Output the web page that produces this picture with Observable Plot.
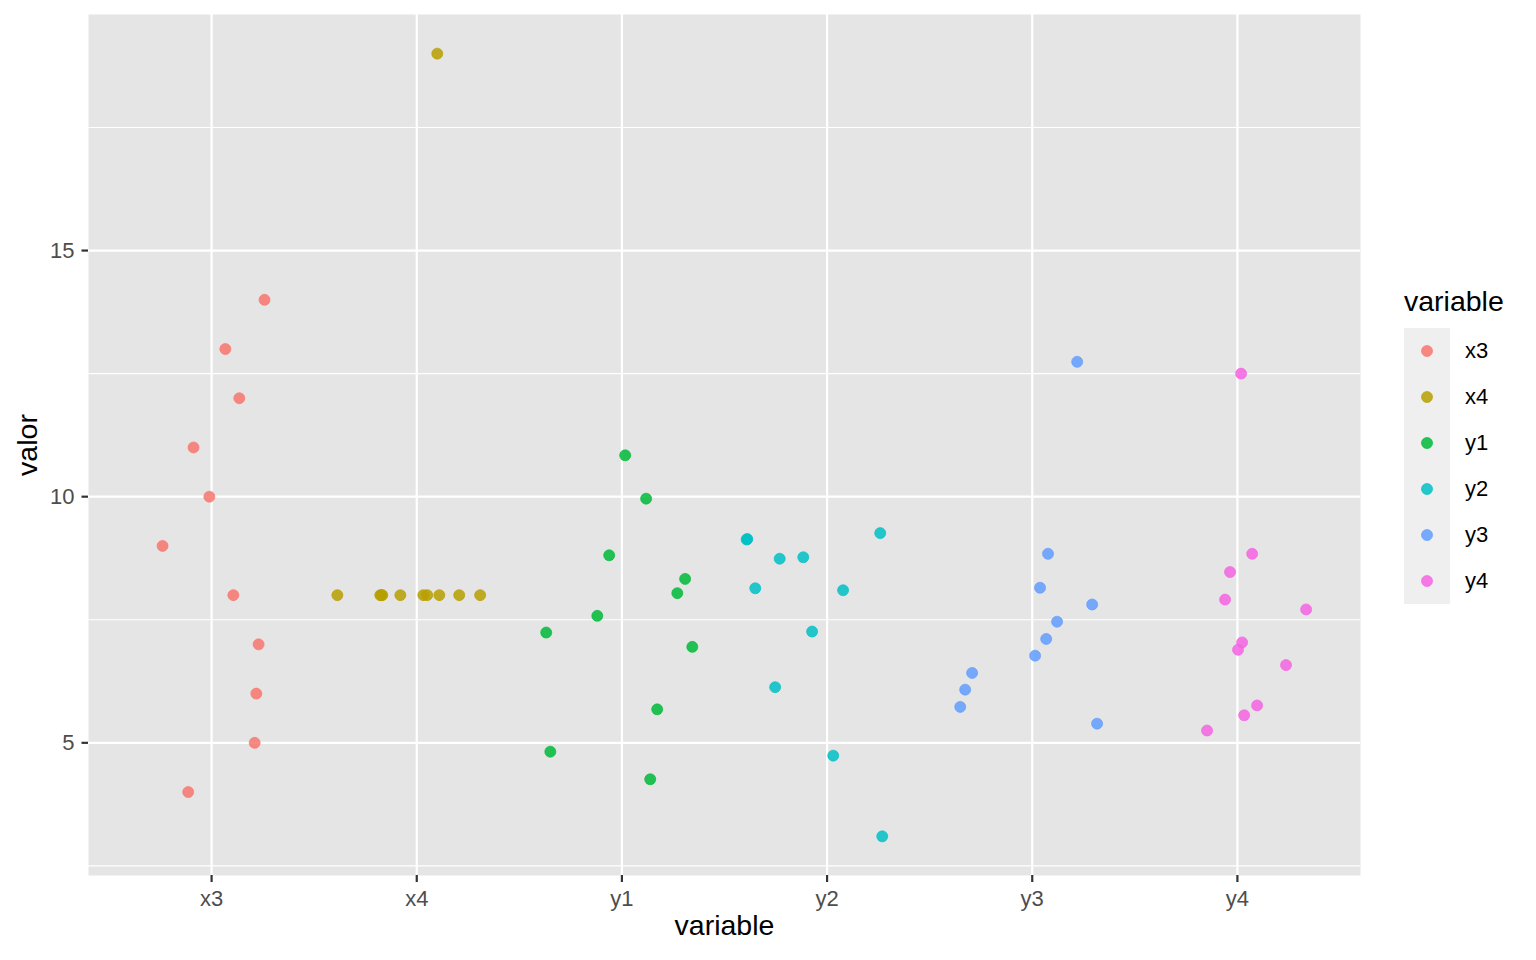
<!DOCTYPE html>
<html>
<head>
<meta charset="utf-8">
<script src="https://cdn.jsdelivr.net/npm/d3@7"></script>
<script src="https://cdn.jsdelivr.net/npm/@observablehq/plot@0.6"></script>
<style>
  html, body { margin: 0; padding: 0; background: #fff; }
  body { width: 1536px; height: 960px; position: relative; font-family: "Liberation Sans", Arial, Helvetica, sans-serif; }
  #chart { position: absolute; left: 0; top: 0; }
  #legend { position: absolute; left: 1404px; top: 283px; }
  #legend .title { font-size: 28.5px; color: #000; height: 45px; line-height: 36px; }
  #legend .row { display: flex; align-items: center; height: 46px; }
  #legend .key { width: 46px; height: 46px; background: #EFEFEF; display: flex; align-items: center; justify-content: center; }
  #legend .lab { font-size: 22px; color: #000; margin-left: 15px; }
</style>
</head>
<body>
<div id="chart"></div>
<div id="legend"></div>
<script>
// Categories and colours
const categories = ["x3", "x4", "y1", "y2", "y3", "y4"];
const colors = ["#F8766D", "#B79F00", "#00BA38", "#00BFC4", "#619CFF", "#F564E3"];

// Values (Anscombe's quartet columns)
const x3 = [10, 8, 13, 9, 11, 14, 6, 4, 12, 7, 5];
const x4 = [8, 8, 8, 8, 8, 8, 8, 19, 8, 8, 8];
const y1 = [8.04, 6.95, 7.58, 8.81, 8.33, 9.96, 7.24, 4.26, 10.84, 4.82, 5.68];
const y2 = [9.14, 8.14, 8.74, 8.77, 9.26, 8.10, 6.13, 3.10, 9.13, 7.26, 4.74];
const y3 = [7.46, 6.77, 12.74, 7.11, 7.81, 8.84, 6.08, 5.39, 8.15, 6.42, 5.73];
const y4 = [6.58, 5.76, 7.71, 8.84, 8.47, 7.04, 5.25, 12.50, 5.56, 7.91, 6.89];

// Horizontal jitter (in category units)
const jx3 = [-0.011, 0.106, 0.067, -0.239, -0.088, 0.258, 0.218, -0.114, 0.135, 0.229, 0.210];
const jx4 = [-0.387, -0.178, -0.168, -0.173, -0.080, 0.032, 0.051, 0.100, 0.110, 0.207, 0.309];
const jy1 = [0.270, 0.343, -0.120, -0.062, 0.308, 0.118, -0.369, 0.138, 0.016, -0.349, 0.172];
const jy2 = [-0.389, -0.350, -0.231, -0.116, 0.259, 0.078, -0.253, 0.269, -0.392, -0.073, 0.030];
const jy3 = [0.121, 0.014, 0.219, 0.068, 0.292, 0.077, -0.327, 0.316, 0.038, -0.293, -0.351];
const jy4 = [0.237, 0.096, 0.335, 0.072, -0.036, 0.023, -0.148, 0.018, 0.033, -0.060, 0.003];

const yTicks = [5, 10, 15];
const yMinor = [2.5, 7.5, 12.5, 17.5];

const series = [x3, x4, y1, y2, y3, y4];
const jitters = [jx3, jx4, jy1, jy2, jy3, jy4];
const data = [];
series.forEach((vals, i) => {
  vals.forEach((v, k) => {
    data.push({variable: categories[i], pos: i + 1 + jitters[i][k], valor: v});
  });
});
const catPos = categories.map((c, i) => i + 1);

const allVals = series.flat();
const ymin = d3.min(allVals), ymax = d3.max(allVals);
const pad = (ymax - ymin) * 0.05;

const chart = Plot.plot({
  width: 1536,
  height: 960,
  marginLeft: 88,
  marginRight: 176,
  marginTop: 14,
  marginBottom: 85,
  style: { fontFamily: "Liberation Sans, Arial, Helvetica, sans-serif", background: "white" },
  x: { domain: [0.4, 6.6] },
  y: { domain: [ymin - pad, ymax + pad] },
  color: { domain: categories, range: colors },
  marks: [
    Plot.frame({ fill: "#E5E5E5", stroke: null }),
    Plot.ruleY(yMinor, { stroke: "white", strokeWidth: 1.1 }),
    Plot.ruleY(yTicks, { stroke: "white", strokeWidth: 2.2 }),
    Plot.ruleX(catPos, { stroke: "white", strokeWidth: 2.2 }),
    Plot.axisY(yTicks, { label: null, tickSize: 6.5, tickPadding: 7.5, fontSize: 22, color: "#4D4D4D", stroke: "#333", strokeWidth: 2.2 }),
    Plot.axisX(catPos, { label: null, tickSize: 7, tickPadding: 8, fontSize: 22, color: "#4D4D4D", stroke: "#333", strokeWidth: 2.2, tickFormat: d => categories[d - 1] }),
    Plot.text(["valor"], { frameAnchor: "left", textAnchor: "middle", dx: -61, rotate: -90, fontSize: 28.5, fill: "#000" }),
    Plot.text(["variable"], { frameAnchor: "bottom", dy: 59, fontSize: 28.5, fill: "#000" }),
    Plot.dot(data, { x: "pos", y: "valor", fill: "variable", r: 5.5, fillOpacity: 0.85, stroke: "variable", strokeOpacity: 0.85, strokeWidth: 0.8 })
  ]
});
document.getElementById("chart").appendChild(chart);

// Legend
const legend = document.getElementById("legend");
const t = document.createElement("div");
t.className = "title";
t.textContent = "variable";
legend.appendChild(t);
categories.forEach((c, i) => {
  const row = document.createElement("div");
  row.className = "row";
  row.innerHTML = `<div class="key"><svg width="14" height="14"><circle cx="7" cy="7" r="5.5" fill="${colors[i]}" fill-opacity="0.85" stroke="${colors[i]}" stroke-opacity="0.85" stroke-width="0.8"/></svg></div><div class="lab">${c}</div>`;
  legend.appendChild(row);
});
</script>
</body>
</html>
